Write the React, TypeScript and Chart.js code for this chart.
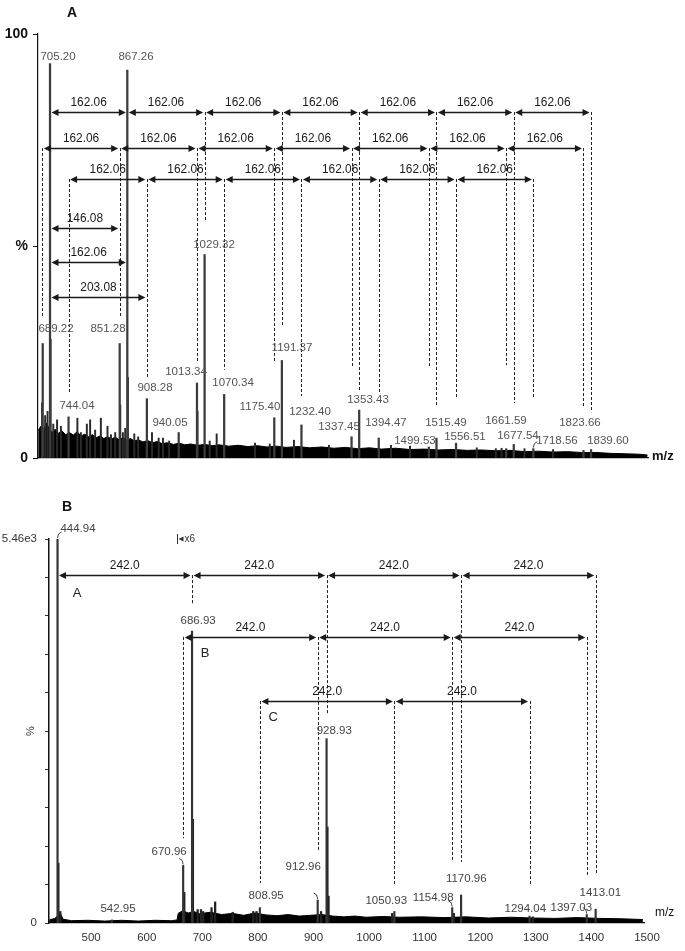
import React, { useEffect, useRef } from 'react';
import { Chart, registerables } from 'chart.js';
Chart.register(...registerables);

const FONT = '"Liberation Sans", Arial, Helvetica, sans-serif';

// ================= Panel A =================
const peakMzA = [689.9, 705.2, 744.04, 851.28, 867.26, 908.28, 975.0, 1013.34, 1029.32, 1070.34, 1175.4, 1191.37, 1232.4, 1337.45, 1353.43, 1394.47, 1499.53, 1515.49, 1556.51, 1661.59, 1677.54, 1718.56, 1823.66, 1839.6];
const peakIntA = [27, 93, 9.7, 27, 91.5, 14, 6, 17.7, 48, 15, 9.5, 23, 7.8, 5, 11.3, 4.7, 2.6, 4.7, 3.5, 2.2, 3.2, 2.2, 1.8, 2.0];
const minorMzA = [688.5, 695, 700, 706.5, 712, 720, 728, 762.6, 770, 782.4, 789.3, 799.8, 811.8, 825.7, 833, 841.9, 852.5, 858, 862.9, 868.5, 881.9, 890, 919, 933, 942, 955, 1014.5, 1040, 1054.6, 1135, 1166, 1216.7, 1290, 1420, 1460, 1600, 1640, 1652, 1700, 1760];
const minorIntA = [13, 10, 11, 28, 8, 9, 7.5, 9.4, 6, 8, 9, 6.6, 9.4, 7.5, 5.5, 6, 12.5, 6, 7, 19, 5.7, 5, 6, 4.7, 4.7, 4, 11, 4, 5.7, 3.5, 3.3, 4.2, 3, 3, 2.8, 2.4, 2.2, 2.3, 2.2, 2.0];
const noiseMzA = [680.5, 686, 692, 698, 703, 710, 716, 722, 730, 738, 746, 754, 762, 770, 778, 786, 794, 802, 810, 818, 826, 834, 842, 850, 858, 866, 874, 882, 890, 900, 910, 920, 930, 940, 952, 964, 976, 988, 1000, 1015, 1030, 1045, 1060, 1080, 1100, 1120, 1140, 1160, 1180, 1200, 1225, 1250, 1275, 1300, 1325, 1350, 1375, 1400, 1430, 1460, 1490, 1520, 1550, 1580, 1610, 1640, 1670, 1700, 1730, 1760, 1790, 1820, 1850, 1880, 1910, 1940, 1958];
const noiseIntA = [6.5, 7.5, 6.8, 8.2, 7.0, 6.0, 6.8, 5.8, 6.4, 5.5, 6.0, 5.4, 6.2, 5.2, 5.6, 5.0, 5.5, 4.8, 5.2, 4.6, 5.0, 4.5, 4.9, 4.3, 4.8, 4.2, 4.6, 4.0, 4.3, 3.8, 4.1, 3.6, 3.9, 3.4, 3.6, 3.2, 3.5, 3.1, 3.3, 3.0, 3.2, 2.9, 3.1, 2.8, 3.0, 2.7, 2.9, 2.6, 2.8, 2.5, 2.7, 2.4, 2.6, 2.3, 2.5, 2.2, 2.4, 2.1, 2.3, 2.0, 2.1, 1.9, 2.0, 1.8, 1.9, 1.7, 1.8, 1.5, 1.6, 1.4, 1.5, 1.3, 1.3, 1.1, 1.0, 0.9, 0.7];
const tickLabelsA: Record<number, string> = { 0: '0', 50: '%', 100: '100' };

// peak label text, anchor m/z, anchor %
const labelTextA = ['705.20', '867.26', '1029.32', '689.22', '851.28', '744.04', '908.28', '940.05', '1013.34', '1070.34', '1175.40', '1191.37', '1232.40', '1337.45', '1353.43', '1394.47', '1499.53', '1515.49', '1556.51', '1661.59', '1677.54', '1718.56', '1823.66', '1839.60'];
const labelMzA = [722, 885.5, 1049, 717.8, 826.8, 761.8, 925.3, 956.8, 990.3, 1088.9, 1145.4, 1212.5, 1250.3, 1311.1, 1371.9, 1409.6, 1470.4, 1535.4, 1575.2, 1661.2, 1686.3, 1768.1, 1816.3, 1875.0];
const labelYA = [94.6, 94.6, 50.2, 30.4, 30.4, 12.3, 16.5, 8.3, 20.3, 17.7, 12.0, 25.9, 10.8, 7.3, 13.7, 8.3, 4.0, 8.3, 5.0, 8.7, 5.2, 4.0, 8.3, 4.0];

const rowsA = [
  { y: 81.6, text: '162.06', pts: [705.2, 867.26, 1029.32, 1191.37, 1353.43, 1515.49, 1677.54, 1839.6] },
  { y: 73.1, text: '162.06', pts: [689.22, 851.28, 1013.34, 1175.4, 1337.45, 1499.53, 1661.59, 1823.66] },
  { y: 65.8, text: '162.06', pts: [744.04, 908.28, 1070.34, 1232.4, 1394.47, 1556.51, 1718.56] },
  { y: 54.2, text: '146.08', pts: [705.2, 851.28] },
  { y: 46.2, text: '162.06', pts: [705.2, 867.26] },
  { y: 38.0, text: '203.08', pts: [705.2, 908.28] },
];
const dashesA: [number, number, number][] = [
  [1029.32, 81.6, 56.1], [1191.37, 81.6, 31.4], [1353.43, 81.6, 16], [1515.49, 81.6, 12], [1677.54, 81.6, 13], [1839.6, 81.6, 10.8],
  [689.22, 73.1, 33.3], [851.28, 73.1, 33.5], [1013.34, 73.1, 22.6], [1175.4, 73.1, 22.4], [1337.45, 73.1, 21.2], [1499.53, 73.1, 21.5], [1661.59, 73.1, 21.9], [1823.66, 73.1, 11.8],
  [744.04, 65.8, 15.1], [908.28, 65.8, 19.1], [1070.34, 65.8, 20.8], [1232.4, 65.8, 14.6], [1394.47, 65.8, 15.3], [1556.51, 65.8, 14.2], [1718.56, 65.8, 14.2],
];

// ================= Panel B =================
const peakMzB = [444.94, 542.95, 670.96, 686.93, 808.95, 912.96, 928.93, 1050.93, 1154.98, 1170.96, 1294.04, 1397.03, 1413.01];
const peakIntB = [100, 0.8, 15, 76, 4, 6, 48, 3, 4, 7.3, 1.8, 2.2, 3.6];
const minorMzB = [446.5, 450, 673, 688.5, 697, 703, 707, 722, 728.5, 760, 797, 803, 919, 930.5, 932.5, 1047, 1158, 1300];
const minorIntB = [15.6, 3, 8, 27, 3.5, 3.5, 3, 4, 5.5, 2.8, 3, 3, 3, 25, 7, 2.5, 2.5, 1.6];
const noiseMzB = [430, 440, 450, 455, 470, 500, 530, 560, 590, 620, 650, 660, 662, 670, 680, 690, 700, 720, 740, 760, 780, 800, 820, 840, 860, 880, 900, 920, 940, 960, 980, 1000, 1030, 1060, 1100, 1140, 1180, 1220, 1260, 1300, 1340, 1380, 1420, 1460, 1498];
const noiseIntB = [0.8, 1.2, 2.5, 1.0, 0.6, 0.7, 0.5, 0.7, 0.5, 0.7, 0.6, 0.8, 2.5, 3.2, 2.6, 3.0, 2.4, 2.8, 2.2, 2.5, 2.0, 2.6, 2.1, 1.9, 2.2, 1.8, 2.0, 2.2, 1.8, 1.6, 1.8, 1.5, 1.7, 1.5, 1.6, 1.4, 1.6, 1.3, 1.5, 1.3, 1.2, 1.4, 1.2, 1.1, 0.9];
const xTicksB = [500, 600, 700, 800, 900, 1000, 1100, 1200, 1300, 1400, 1500];
const tickLabelsB: Record<number, string> = { 0: '0', 100: '5.46e3' };

const labelTextB = ['444.94', '686.93', '670.96', '542.95', '808.95', '912.96', '928.93', '1050.93', '1154.98', '1170.96', '1294.04', '1397.03', '1413.01'];
const labelMzB = [481.8, 697.9, 645.7, 553.8, 820.3, 886.9, 942.7, 1036.3, 1120.8, 1180.3, 1286.5, 1369.3, 1421.5];
const labelYB = [102.6, 78.6, 18.5, 3.6, 7.0, 14.6, 50.0, 5.7, 6.5, 11.5, 3.6, 3.9, 7.8];

const rowsB = [
  { y: 90.6, text: '242.0', pts: [444.94, 686.93, 928.93, 1170.96, 1413.01] },
  { y: 74.5, text: '242.0', pts: [670.96, 912.96, 1154.98, 1397.03] },
  { y: 57.8, text: '242.0', pts: [808.95, 1050.93, 1294.04] },
];
const seriesTagsB = ['A', 'B', 'C'];
const seriesTagMzB = [480.0, 710.5, 832.9];
const seriesTagYB = [85.9, 70.3, 53.6];
const dashesB: [number, number, number][] = [
  [686.93, 90.6, 82.8], [928.93, 90.6, 54.2], [1170.96, 90.6, 15.9], [1413.01, 90.6, 12.5],
  [670.96, 74.5, 22.1], [912.96, 74.5, 19], [1154.98, 74.5, 15.9], [1397.03, 74.5, 12.5],
  [808.95, 57.8, 10.4], [1050.93, 57.8, 9.9], [1294.04, 57.8, 9.9],
];

type Leader = { mz: number; top: number; dir: number };

function annoPlugin(cfg: any) {
  return {
    id: 'anno',
    afterDatasetsDraw(chart: any) {
      const ctx: CanvasRenderingContext2D = chart.ctx;
      const xs = chart.scales.x, ys = chart.scales.y;
      const X = (v: number) => xs.getPixelForValue(v);
      const Y = (v: number) => ys.getPixelForValue(v);
      const ca = chart.chartArea;
      ctx.save();
      // dashed guide lines
      ctx.strokeStyle = '#222';
      ctx.lineWidth = 1;
      ctx.setLineDash([3, 2]);
      cfg.dashes.forEach(([m, a, b]: number[]) => {
        const x = Math.round(X(m)) + 0.5;
        ctx.beginPath(); ctx.moveTo(x, Y(a)); ctx.lineTo(x, Y(b)); ctx.stroke();
      });
      ctx.setLineDash([]);
      // double arrows
      ctx.strokeStyle = '#1a1a1a';
      ctx.fillStyle = '#1a1a1a';
      ctx.lineWidth = 1.3;
      const head = (x: number, y: number, dir: number) => {
        ctx.beginPath(); ctx.moveTo(x, y); ctx.lineTo(x - dir * 7, y - 3.6); ctx.lineTo(x - dir * 7, y + 3.6); ctx.closePath(); ctx.fill();
      };
      cfg.rows.forEach((r: any) => {
        const y = Math.round(Y(r.y)) + 0.5;
        for (let i = 0; i < r.pts.length - 1; i++) {
          const a = X(r.pts[i]) + 1.5, b = X(r.pts[i + 1]) - 1.5;
          ctx.beginPath(); ctx.moveTo(a + 5, y); ctx.lineTo(b - 5, y); ctx.stroke();
          head(a, y, -1); head(b, y, 1);
          ctx.save();
          ctx.translate((a + b) / 2, y - 10);
          ctx.scale(cfg.arrowScaleX, 1);
          ctx.font = cfg.arrowFont;
          ctx.textAlign = 'center'; ctx.textBaseline = 'middle';
          ctx.fillText(r.text, 0, 0);
          ctx.restore();
        }
      });
      // peak labels
      ctx.fillStyle = cfg.labelColor;
      ctx.font = cfg.labelFont;
      ctx.textAlign = 'center'; ctx.textBaseline = 'middle';
      cfg.labels.t.forEach((t: string, i: number) => ctx.fillText(t, X(cfg.labels.m[i]), Y(cfg.labels.y[i])));
      // leader curves from labels to peaks
      ctx.strokeStyle = '#444'; ctx.lineWidth = 1;
      cfg.leaders.forEach((l: Leader) => {
        const px = X(l.mz), py = Y(l.top);
        ctx.beginPath(); ctx.moveTo(px + l.dir * 4, py - 7); ctx.quadraticCurveTo(px, py - 6, px, py - 1); ctx.stroke();
      });
      // series tags
      if (cfg.tags) {
        ctx.fillStyle = '#222'; ctx.font = `13px ${FONT}`;
        cfg.tags.t.forEach((t: string, i: number) => ctx.fillText(t, X(cfg.tags.m[i]), Y(cfg.tags.y[i])));
      }
      // x6 magnification marker
      if (cfg.mag) {
        const mx = Math.round(X(cfg.mag.mz)) + 0.5, my = Y(cfg.mag.y);
        ctx.strokeStyle = '#333'; ctx.fillStyle = '#333'; ctx.lineWidth = 1;
        ctx.beginPath(); ctx.moveTo(mx, my - 5); ctx.lineTo(mx, my + 5); ctx.stroke();
        ctx.beginPath(); ctx.moveTo(mx + 1, my); ctx.lineTo(mx + 6, my - 2.5); ctx.lineTo(mx + 6, my + 2.5); ctx.closePath(); ctx.fill();
        ctx.font = `10px ${FONT}`; ctx.textAlign = 'left';
        ctx.fillText(cfg.mag.text, mx + 7, my);
      }
      // axis unit and panel letter
      ctx.fillStyle = '#111';
      ctx.font = cfg.unitFont; ctx.textAlign = 'left'; ctx.textBaseline = 'middle';
      ctx.fillText('m/z', ca.right + cfg.unitDx, ca.bottom + cfg.unitDy);
      ctx.font = `bold 14px ${FONT}`; ctx.textAlign = 'center';
      ctx.fillText(cfg.panel, ca.left + cfg.panelDx, cfg.panelY);
      ctx.restore();
    },
  };
}

function buildA(): any {
  return {
    type: 'bar',
    data: {
      datasets: [
        { type: 'line', data: noiseMzA.map((m, i) => ({ x: m, y: noiseIntA[i] })), borderColor: '#000', borderWidth: 1, backgroundColor: '#000', fill: 'origin', pointRadius: 0, tension: 0, order: 3 },
        { data: minorMzA.map((m, i) => ({ x: m, y: minorIntA[i] })), backgroundColor: '#2a2a2a', barThickness: 1.3, grouped: false, order: 2 },
        { data: peakMzA.map((m, i) => ({ x: m, y: peakIntA[i] })), backgroundColor: '#3c3c3c', barThickness: 1.6, grouped: false, order: 1 },
      ],
    },
    options: {
      responsive: false, animation: false, events: [],
      layout: { padding: { top: 34, right: 37, left: 0, bottom: 0 } },
      plugins: { legend: { display: false }, tooltip: { enabled: false } },
      scales: {
        x: {
          type: 'linear', min: 680, max: 1959, offset: false,
          grid: { display: false }, ticks: { display: false },
          border: { display: true, color: '#111', width: 1.2 },
          afterFit: (s: any) => { s.height = 17; },
        },
        y: {
          min: 0, max: 100,
          ticks: { stepSize: 50, color: '#111', font: { family: FONT, size: 14, weight: 'bold' }, padding: 5, callback: (v: number) => tickLabelsA[v] ?? '' },
          grid: { display: true, drawOnChartArea: false, drawTicks: true, tickLength: 5, color: '#111' },
          border: { display: true, color: '#111', width: 1.2 },
          afterFit: (s: any) => { s.width = 38; },
        },
      },
    },
    plugins: [annoPlugin({
      dashes: dashesA, rows: rowsA, arrowFont: `13.5px ${FONT}`, arrowScaleX: 0.88,
      labels: { t: labelTextA, m: labelMzA, y: labelYA }, labelColor: '#555', labelFont: `11.5px ${FONT}`,
      leaders: [{ mz: 1718.56, top: 2.2, dir: 1 }],
      unitFont: `bold 13px ${FONT}`, unitDx: 4, unitDy: -2, panel: 'A', panelDx: 34, panelY: 13,
    })],
  };
}

function buildB(): any {
  return {
    type: 'bar',
    data: {
      datasets: [
        { type: 'line', data: noiseMzB.map((m, i) => ({ x: m, y: noiseIntB[i] })), borderColor: '#000', borderWidth: 1, backgroundColor: '#000', fill: 'origin', pointRadius: 0, tension: 0, order: 3 },
        { data: minorMzB.map((m, i) => ({ x: m, y: minorIntB[i] })), backgroundColor: '#222', barThickness: 1.6, grouped: false, order: 2 },
        { data: peakMzB.map((m, i) => ({ x: m, y: peakIntB[i] })), backgroundColor: '#333', barThickness: 1.5, grouped: false, order: 1 },
      ],
    },
    options: {
      responsive: false, animation: false, events: [],
      layout: { padding: { top: 64, right: 41, left: 0, bottom: 0 } },
      plugins: { legend: { display: false }, tooltip: { enabled: false } },
      scales: {
        x: {
          type: 'linear', min: 429.6, max: 1500, offset: false,
          afterBuildTicks: (s: any) => { s.ticks = xTicksB.map((v) => ({ value: v })); },
          grid: { display: false, drawTicks: false },
          ticks: { color: '#333', font: { family: FONT, size: 11.5 }, padding: 8, labelOffset: 3, maxRotation: 0, autoSkip: false, callback: (v: number) => String(v) },
          border: { display: true, color: '#111', width: 1.2 },
          afterFit: (s: any) => { s.height = 28; },
        },
        y: {
          min: 0, max: 100,
          ticks: { stepSize: 10, color: '#333', font: { family: FONT, size: 11.5 }, padding: 8, callback: (v: number) => tickLabelsB[v] ?? '' },
          grid: { display: true, drawOnChartArea: false, drawTicks: true, tickLength: 4, color: '#333' },
          border: { display: true, color: '#111', width: 1.5 },
          title: { display: true, text: '%', color: '#333', font: { family: FONT, size: 11 }, padding: { top: 24, bottom: 0 } },
          afterFit: (s: any) => { s.width = 49; },
        },
      },
    },
    plugins: [annoPlugin({
      dashes: dashesB, rows: rowsB, arrowFont: `13px ${FONT}`, arrowScaleX: 0.92,
      labels: { t: labelTextB, m: labelMzB, y: labelYB }, labelColor: '#444', labelFont: `11.5px ${FONT}`,
      leaders: [
        { mz: 444.94, top: 100, dir: 1 }, { mz: 670.96, top: 15, dir: -1 }, { mz: 912.96, top: 6, dir: -1 },
        { mz: 1154.98, top: 4, dir: -1 }, { mz: 1397.03, top: 2.2, dir: -1 },
      ],
      tags: { t: seriesTagsB, m: seriesTagMzB, y: seriesTagYB },
      mag: { mz: 660, y: 100, text: 'x6' },
      unitFont: `12px ${FONT}`, unitDx: 11, unitDy: -10, panel: 'B', panelDx: 18, panelY: 32,
    })],
  };
}

function ChartCanvas({ build, top, height }: { build: () => any; top: number; height: number }) {
  const ref = useRef<HTMLCanvasElement>(null);
  useEffect(() => {
    const c = new Chart(ref.current as HTMLCanvasElement, build());
    return () => c.destroy();
  }, [build]);
  return <canvas ref={ref} width={685} height={height} style={{ position: 'absolute', left: 0, top, width: 685, height }} />;
}

export default function App() {
  return (
    <div style={{ position: 'absolute', left: 0, top: 0, width: 685, height: 951, background: '#fff' }}>
      <ChartCanvas build={buildA} top={0} height={475} />
      <ChartCanvas build={buildB} top={475} height={476} />
    </div>
  );
}
